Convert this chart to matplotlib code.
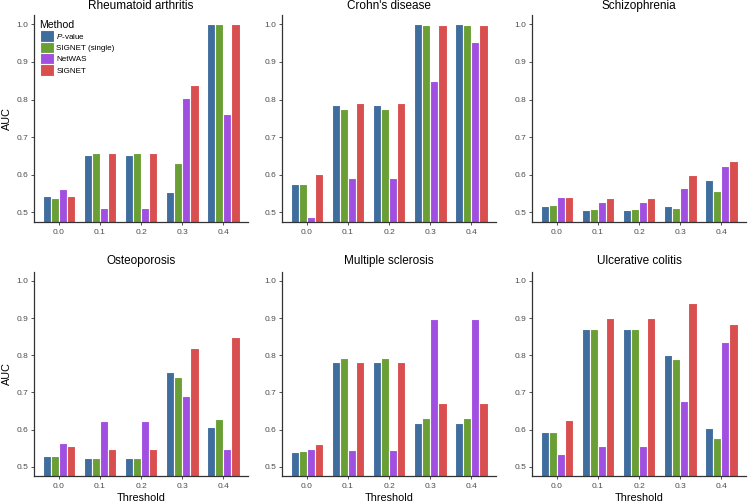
import matplotlib
matplotlib.use("Agg")
import matplotlib.pyplot as plt
import numpy as np
from matplotlib.patches import Patch

plt.rcParams['font.family'] = ['Liberation Sans', 'DejaVu Sans']
plt.rcParams['mathtext.fontset'] = 'custom'
plt.rcParams['mathtext.it'] = 'Liberation Sans:italic'
plt.rcParams['mathtext.rm'] = 'Liberation Sans'

thresholds = ["0.0", "0.1", "0.2", "0.3", "0.4"]
methods = ["$\\it{P}$-value", "SIGNET (single)", "NetWAS", "SIGNET"]
colors = ["#3F6D9E", "#6A9F35", "#A04FE0", "#D94F50"]

titles = ["Rheumatoid arthritis", "Crohn's disease", "Schizophrenia",
          "Osteoporosis", "Multiple sclerosis", "Ulcerative colitis"]

# values per disease: rows = method (P-value, SIGNET single, NetWAS, SIGNET), cols = threshold
ra = [[0.543, 0.652, 0.652, 0.555, 1.000],
      [0.538, 0.657, 0.657, 0.630, 1.000],
      [0.562, 0.511, 0.511, 0.803, 0.761],
      [0.543, 0.658, 0.658, 0.839, 1.000]]
cd = [[0.575, 0.786, 0.786, 1.000, 1.000],
      [0.575, 0.775, 0.775, 0.998, 0.998],
      [0.487, 0.592, 0.592, 0.850, 0.954],
      [0.603, 0.792, 0.792, 0.998, 0.998]]
sz = [[0.518, 0.506, 0.506, 0.518, 0.585],
      [0.520, 0.508, 0.508, 0.512, 0.556],
      [0.542, 0.527, 0.527, 0.565, 0.624],
      [0.540, 0.538, 0.538, 0.598, 0.636]]
op = [[0.529, 0.524, 0.524, 0.754, 0.607],
      [0.530, 0.524, 0.524, 0.741, 0.629],
      [0.563, 0.622, 0.622, 0.690, 0.548],
      [0.555, 0.548, 0.548, 0.820, 0.849]]
ms = [[0.540, 0.781, 0.781, 0.618, 0.618],
      [0.543, 0.792, 0.792, 0.630, 0.630],
      [0.549, 0.545, 0.545, 0.899, 0.899],
      [0.562, 0.782, 0.782, 0.672, 0.672]]
uc = [[0.594, 0.871, 0.871, 0.802, 0.603],
      [0.594, 0.870, 0.870, 0.789, 0.578],
      [0.535, 0.555, 0.555, 0.676, 0.836],
      [0.625, 0.900, 0.900, 0.942, 0.884]]
data = [ra, cd, sz, op, ms, uc]

fig = plt.figure(figsize=(7.5, 5.04), dpi=100)
W, H = 750, 504
lefts = [34.3, 282.3, 532.3]
width_px = 213.5
rows = [(15, 221.7), (271.7, 476)]

x = np.arange(len(thresholds))
bw = 0.2
axes = []
for i, (title, vals) in enumerate(zip(titles, data)):
    r, c = divmod(i, 3)
    top, bot = rows[r]
    ax = fig.add_axes([lefts[c] / W, 1 - bot / H, width_px / W, (bot - top) / H])
    axes.append(ax)
    for m in range(4):
        ax.bar(x + (m - 1.5) * bw, np.array(vals[m]) - 0.4, bottom=0.4, width=bw,
               color=colors[m], edgecolor="white", linewidth=0.8)
    ax.set_xlim(-0.6, 4.6)
    ax.set_ylim(0.475, 1.025)
    ax.set_xticks(x)
    ax.set_xticklabels(thresholds)
    ax.set_yticks([0.5, 0.6, 0.7, 0.8, 0.9, 1.0])
    ax.set_yticklabels(["0.5", "0.6", "0.7", "0.8", "0.9", "1.0"])
    ax.tick_params(axis='both', labelsize=6.0, colors="#333333", labelcolor="#4D4D4D",
                   length=2.2, width=0.6, pad=2.0)
    ax.tick_params(axis='x', pad=3.0)
    for s in ["top", "right"]:
        ax.spines[s].set_visible(False)
    for s in ["left", "bottom"]:
        ax.spines[s].set_color("#333333")
        ax.spines[s].set_linewidth(0.9)
    ax.set_title(title, fontsize=8.5, pad=4.0 if r == 0 else 5.5)
    if c == 0:
        ax.set_ylabel("AUC", fontsize=7.8, labelpad=3.5)
    if r == 1:
        ax.set_xlabel("Threshold", fontsize=7.8, labelpad=2.0)

handles = [Patch(facecolor=colors[m], edgecolor="white", linewidth=0.8, label=methods[m]) for m in range(4)]
leg = axes[0].legend(handles=handles, title="Method", loc="upper left",
                     bbox_to_anchor=(0.0, 1.0), frameon=False, fontsize=5.8,
                     title_fontsize=7.6, handlelength=1.8, handleheight=1.8,
                     handletextpad=0.3, labelspacing=0.0, borderaxespad=0.25)
leg._legend_box.align = "left"

fig.savefig("out.png", dpi=100)
